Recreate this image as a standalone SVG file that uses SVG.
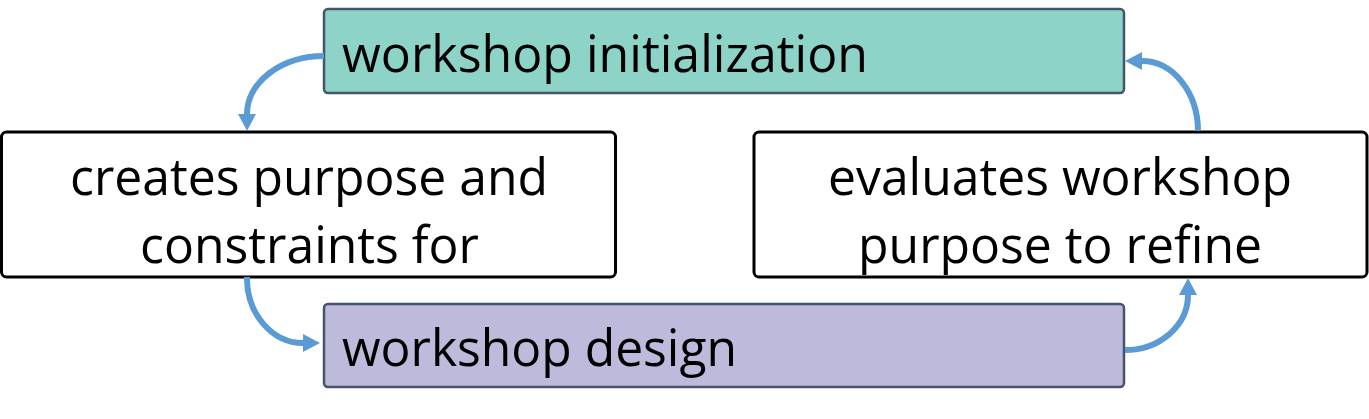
<svg xmlns="http://www.w3.org/2000/svg" width="1369" height="419" viewBox="0 0 1369 419">
<style>
  .lbl { font-family: "Open Sans", "Noto Sans", "Liberation Sans", sans-serif; font-size: 52px; fill: #000; }
  .colored { stroke: #44546A; stroke-width: 2.5; }
  .plain { fill: #fff; stroke: #000; stroke-width: 3; }
  .conn { fill: none; stroke: #5B9BD5; stroke-width: 6; marker-end: url(#ah); }
</style>
<defs>
  <marker id="ah" markerUnits="userSpaceOnUse" markerWidth="18" markerHeight="18" viewBox="0 0 18 18" refX="0" refY="9" orient="auto">
    <path d="M0,0 L17,9 L0,18 z" fill="#5B9BD5"/>
  </marker>
</defs>
<rect width="1369" height="419" fill="#fff"/>
<g id="init">
  <rect class="colored" x="324" y="9" width="800" height="84" rx="4" fill="#8DD3C7"/>
  <text class="lbl" x="342" y="72" textLength="526" lengthAdjust="spacingAndGlyphs">workshop initialization</text>
</g>
<g id="creates">
  <rect class="plain" x="1.5" y="132" width="614" height="145" rx="5"/>
  <text class="lbl" x="70" y="195" textLength="478" lengthAdjust="spacingAndGlyphs">creates purpose and</text>
  <text class="lbl" x="140" y="263" textLength="339" lengthAdjust="spacingAndGlyphs">constraints for</text>
</g>
<g id="evaluates">
  <rect class="plain" x="754" y="132" width="613" height="145" rx="5"/>
  <text class="lbl" x="828" y="195" textLength="464" lengthAdjust="spacingAndGlyphs">evaluates workshop</text>
  <text class="lbl" x="858" y="263" textLength="404" lengthAdjust="spacingAndGlyphs">purpose to refine</text>
</g>
<g id="design">
  <rect class="colored" x="324" y="304" width="800" height="83" rx="4" fill="#BDBADB"/>
  <text class="lbl" x="342" y="366" textLength="395" lengthAdjust="spacingAndGlyphs">workshop design</text>
</g>
<g id="connectors">
  <path class="conn" d="M324,56 A77,58 0 0 0 247,114"/>
  <path class="conn" d="M247,277 A56,65 0 0 0 303,343"/>
  <path class="conn" d="M1125,350 A63,55 0 0 0 1188,295"/>
  <path class="conn" d="M1198,131 A56,70 0 0 0 1142,61"/>
</g>
</svg>
